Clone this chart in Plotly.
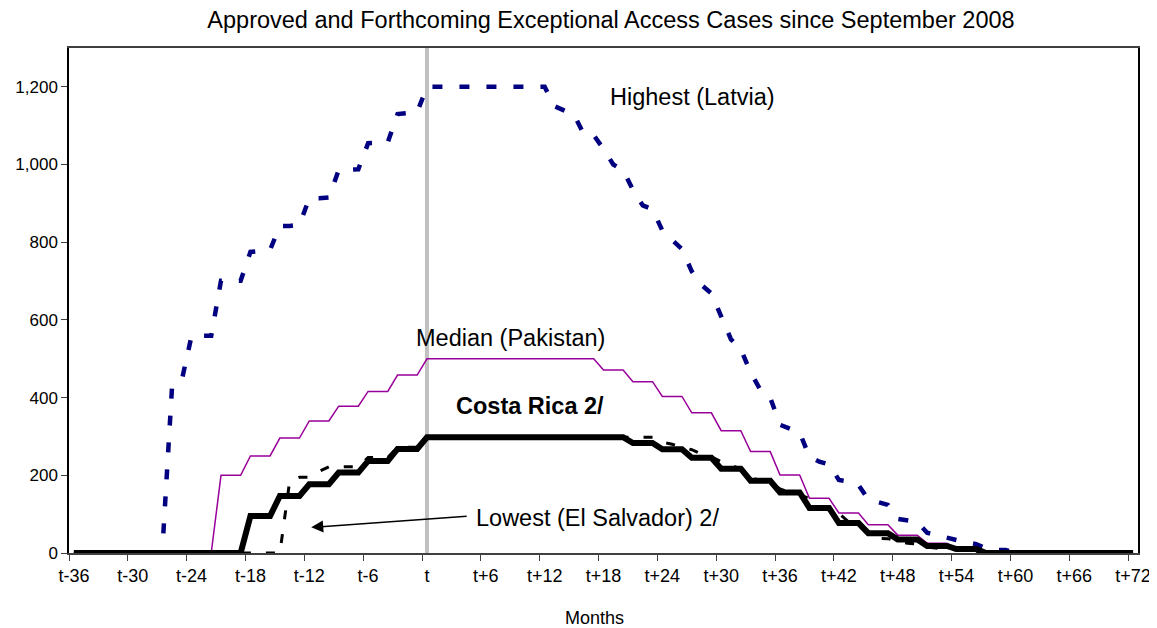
import plotly.graph_objects as go

# months relative to t (September 2008)
months = list(range(-36, 73))
tick_months = list(range(-36, 73, 6))
tick_text = ["t" if m == 0 else ("t+%d" % m if m > 0 else "t%d" % m) for m in tick_months]

# Highest (Latvia)
latvia = [0, 0, 0, 0, 0, 0, 0, 0, 0, 0,                      # t-36 .. t-27
          425, 445, 559, 559, 559, 701, 701, 701, 775, 778,  # t-26 .. t-17
          780, 842, 842, 845, 913, 913, 915, 986, 986, 988,  # t-16 .. t-7
          1055, 1055, 1057, 1130, 1132, 1135, 1200,          # t-6 .. t
          1200, 1200, 1200, 1200, 1200, 1200, 1200, 1200, 1200, 1200, 1200, 1200,  # t+1 .. t+12
          1150, 1140, 1128, 1078, 1076, 1040, 1000, 985, 935, 895,  # t+13 .. t+22
          885, 830, 805, 782, 725, 690, 668, 609, 550, 525,         # t+23 .. t+32
          465, 420, 400, 330, 320, 310, 248, 235, 228, 188,         # t+33 .. t+42
          184, 175, 138, 130, 124, 88, 85, 80, 52, 45,              # t+43 .. t+52
          38, 32, 27, 23, 12, 8, 8,                                 # t+53 .. t+59
          0, 0, 0, 0, 0, 0, 0, 0, 0, 0, 0, 0, 0]                    # t+60 .. t+72

# Median (Pakistan)
pakistan = [0, 0, 0, 0, 0, 0, 0, 0, 0, 0, 0, 0, 0, 0, 0,    # t-36 .. t-22
            200, 200, 200, 250, 250, 250, 296, 296, 296,     # t-21 .. t-13
            340, 340, 340, 378, 378, 378, 416, 416, 416,     # t-12 .. t-4
            458, 458, 458, 500,                              # t-3 .. t
            500, 500, 500, 500, 500, 500, 500, 500, 500, 500, 500, 500, 500, 500, 500, 500, 500,  # t+1 .. t+17
            471, 471, 471, 441, 441, 441, 403, 403, 403,     # t+18 .. t+26
            361, 361, 361, 315, 315, 315, 261, 261, 261,     # t+27 .. t+35
            201, 201, 201, 141, 141, 141, 103, 103, 103,     # t+36 .. t+44
            73, 73, 73, 46, 46, 46, 25, 25, 25, 12, 12, 12,  # t+45 .. t+56
            0, 0, 0, 0, 0, 0, 0, 0, 0, 0, 0, 0, 0, 0, 0, 0]  # t+57 .. t+72

# Costa Rica
costa_rica = [0, 0, 0, 0, 0, 0, 0, 0, 0, 0, 0, 0, 0, 0, 0, 0, 0, 0,  # t-36 .. t-19
              95, 95, 95, 147, 147, 147, 177, 177, 177,               # t-18 .. t-10
              207, 207, 207, 237, 237, 237, 268, 268, 268,            # t-9 .. t-1
              298, 298, 298, 298, 298, 298, 298, 298, 298, 298, 298,  # t .. t+10
              298, 298, 298, 298, 298, 298, 298, 298, 298, 298,       # t+11 .. t+20
              283, 283, 283, 267, 267, 267, 245, 245, 245,            # t+21 .. t+29
              217, 217, 217, 186, 186, 186, 156, 156, 156,            # t+30 .. t+38
              116, 116, 116, 77, 77, 77, 51, 51, 51,                  # t+39 .. t+47
              35, 35, 35, 18, 18, 18, 10, 10, 10,                     # t+48 .. t+56
              0, 0, 0, 0, 0, 0, 0, 0, 0, 0, 0, 0, 0, 0, 0, 0]         # t+57 .. t+72

# Lowest (El Salvador)
el_salvador = [0, 0, 0, 0, 0, 0, 0, 0, 0, 0, 0,              # t-36 .. t-26
               0, 0, 0, 0, 0, 0, 0, 0, 0, 0, 0,              # t-25 .. t-15
               185, 195, 195, 210, 222, 222, 222, 222,       # t-14 .. t-7
               246, 246, 246, 272, 272, 272,                 # t-6 .. t-1
               298, 298, 298, 298, 298, 298, 298, 298, 298, 298, 298, 298,  # t .. t+11
               298, 298, 298, 298, 298, 298, 298, 298, 298, 298, 298, 298,  # t+12 .. t+23
               285, 280, 272, 266, 255, 248, 235, 225, 216, 195,  # t+24 .. t+33
               186, 180, 165, 156, 150, 140, 118, 110, 102, 80,   # t+34 .. t+43
               76, 50, 38, 37, 30, 25, 23, 15, 12, 10,            # t+44 .. t+53
               8, 5, 3,                                           # t+54 .. t+56
               0, 0, 0, 0, 0, 0, 0, 0, 0, 0, 0, 0, 0, 0, 0, 0]    # t+57 .. t+72

font = "Liberation Sans, Arial, sans-serif"

fig = go.Figure()

# vertical marker at t
fig.add_trace(go.Scatter(x=[0, 0], y=[0, 1300], mode="lines",
                         line=dict(color="#C0C0C0", width=4), hoverinfo="skip"))

fig.add_trace(go.Scatter(x=months, y=latvia, mode="lines", name="Highest (Latvia)",
                         line=dict(color="#000080", width=4.5, dash="10px,17px")))
fig.add_trace(go.Scatter(x=months, y=pakistan, mode="lines", name="Median (Pakistan)",
                         line=dict(color="#990099", width=1.5)))
fig.add_trace(go.Scatter(x=months, y=costa_rica, mode="lines", name="Costa Rica 2/",
                         line=dict(color="#000000", width=6)))
fig.add_trace(go.Scatter(x=months, y=el_salvador, mode="lines", name="Lowest (El Salvador) 2/",
                         line=dict(color="#000000", width=3, dash="9px,15px")))

# series labels
fig.add_annotation(x=27.1, y=1174, text="Highest (Latvia)", showarrow=False,
                   font=dict(size=23.5, color="#000000"))
fig.add_annotation(x=8.5, y=554, text="Median (Pakistan)", showarrow=False,
                   font=dict(size=23.5, color="#000000"))
fig.add_annotation(x=10.5, y=379, text="<b>Costa Rica 2/</b>", showarrow=False,
                   font=dict(size=23.5, color="#000000"))
fig.add_annotation(x=4.8, y=90, text="Lowest (El Salvador) 2/", showarrow=False,
                   xanchor="left", font=dict(size=23.5, color="#000000"))
fig.add_annotation(x=-11.8, y=66, ax=4.2, ay=95, axref="x", ayref="y", text="",
                   showarrow=True, arrowhead=2, arrowsize=1.6, arrowwidth=1.5,
                   arrowcolor="#000000", standoff=0)

# axis title
fig.add_annotation(x=0.492, y=-0.129, xref="paper", yref="paper", text="Months",
                   yanchor="middle", showarrow=False, font=dict(size=18, color="#000000"))

# page body has an 8px margin, so the figure is sized and offset to fit the window
fig.update_layout(
    width=1149, height=620,
    margin=dict(l=61, r=19, t=40, b=75),
    paper_bgcolor="white", plot_bgcolor="white",
    showlegend=False,
    font=dict(family=font, color="#000000"),
    title=dict(text="Approved and Forthcoming Exceptional Access Cases since September 2008",
               x=0.5248, xanchor="center", y=0.981, yanchor="middle",
               font=dict(size=23.5, color="#000000")),
    xaxis=dict(range=[-36.5, 72.5], tickvals=tick_months, ticktext=tick_text,
               ticks="", showgrid=False, zeroline=False, automargin=False,
               showline=True, linecolor="#404040", linewidth=1.5, mirror=True,
               tickfont=dict(size=18), ticklabelstandoff=6,
               minor=dict(tick0=-36.5, dtick=6, ticks="outside", ticklen=6,
                          tickcolor="#404040", showgrid=False)),
    yaxis=dict(range=[0, 1300], tickvals=list(range(0, 1201, 200)), tickformat=",d",
               ticks="outside", ticklen=6, tickcolor="#404040",
               showgrid=False, zeroline=False, automargin=False,
               showline=True, linecolor="#000000", linewidth=1.5, mirror=True,
               tickfont=dict(size=17)),
)

fig.write_html("out.html")
